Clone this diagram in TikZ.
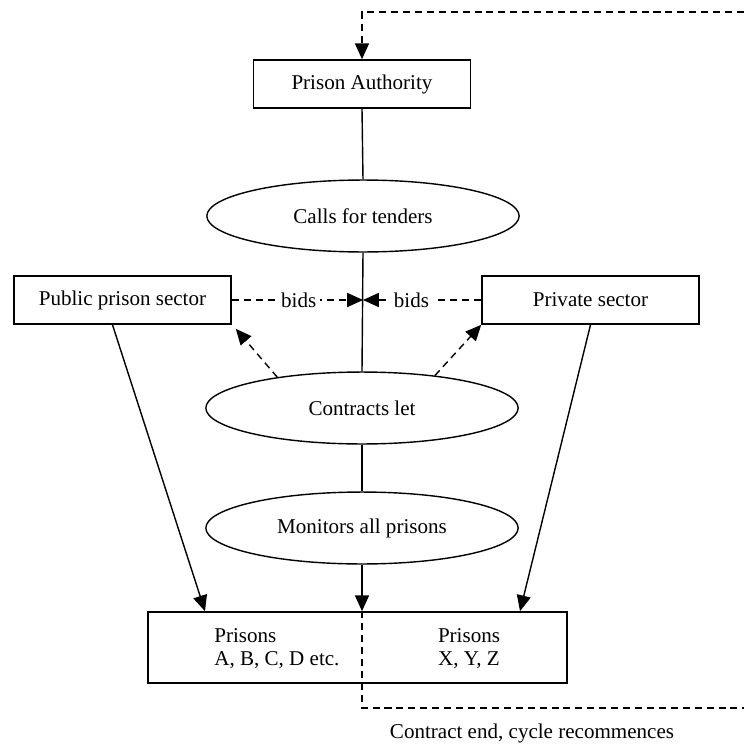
\documentclass[tikz,border=0pt]{standalone}
\usepackage{fontspec}
\setmainfont{Liberation Serif}
\usetikzlibrary{shapes.geometric,arrows.meta,calc}
\tikzset{
  box/.style={draw,line width=0.9pt,rectangle,minimum width=123.7pt,minimum height=27.4pt,inner sep=0pt},
  oval/.style={draw,line width=0.8pt,ellipse,minimum width=178pt,minimum height=41pt,inner sep=0pt},
  link/.style={line width=0.8pt},
  arr/.style={link,-{Triangle[length=9pt,width=8pt]}},
  dsh/.style={dash pattern=on 4pt off 2.8pt},
  bidtxt/.style={fill=white,inner sep=2pt}
}
\begin{document}
\begin{tikzpicture}[x=0.57pt,y=-0.57pt,font=\fontsize{12}{13.5}\selectfont]
  \useasboundingbox (0,0) rectangle (744,749);

  % Prison authority and its steps
  \node[box] (auth) at (362,84) {Prison Authority};
  \node[oval] (calls) at (363,216) {Calls for tenders};
  \node[oval] (contracts) at (362,408) {Contracts let};
  \node[oval] (monitors) at (362,528) {Monitors all prisons};
  \draw[link] (auth.south) -- (calls.north);
  \draw[link] (calls.south) -- (contracts.north);
  \draw[link] (contracts.south) -- (monitors.north);

  % Bidders
  \node[box] (public) at (122.5,300) {Public prison sector};
  \node[box] (private) at (590.5,300) {Private sector};
  \coordinate (bidpt) at (calls.south |- public.east);
  \draw[arr,dsh] (public.east) -- node[bidtxt,pos=0.51] {bids} (bidpt);
  \draw[arr,dsh] (private.west) -- node[bidtxt,pos=0.59] {bids} (bidpt);
  \draw[arr,dsh] (contracts.160) -- ($(public.south east)+(4,4)$);
  \draw[arr,dsh] (contracts.24) -- (private.south west);

  % Prisons
  \node[draw,line width=0.9pt,minimum width=238.8pt,minimum height=40.5pt,inner sep=0pt] (prisons) at (357.5,647.5) {};
  \node[align=left,anchor=west,inner sep=0pt] (prisA) at (214,648.5) {Prisons\\A, B, C, D etc.};
  \node[align=center,inner sep=0pt] (prisX) at (469,648.5) {Prisons\\X, Y, Z};
  \draw[arr] ($(public.south)+(-10,0)$) -- (205,0 |- prisons.north);
  \draw[arr] (private.south) -- (520,0 |- prisons.north);
  \draw[arr] (monitors.south) -- (monitors.south |- prisons.north);

  % Cycle back to the authority
  \coordinate (loopbot) at (744,708);
  \coordinate (looptop) at (744,12);
  \draw[link,dsh] (monitors.south |- prisons.north) |- (loopbot);
  \draw[arr,dsh] (looptop) -| (auth.north);
  \node (cycletxt) at (532,733) {Contract end, cycle recommences};
\end{tikzpicture}
\end{document}
